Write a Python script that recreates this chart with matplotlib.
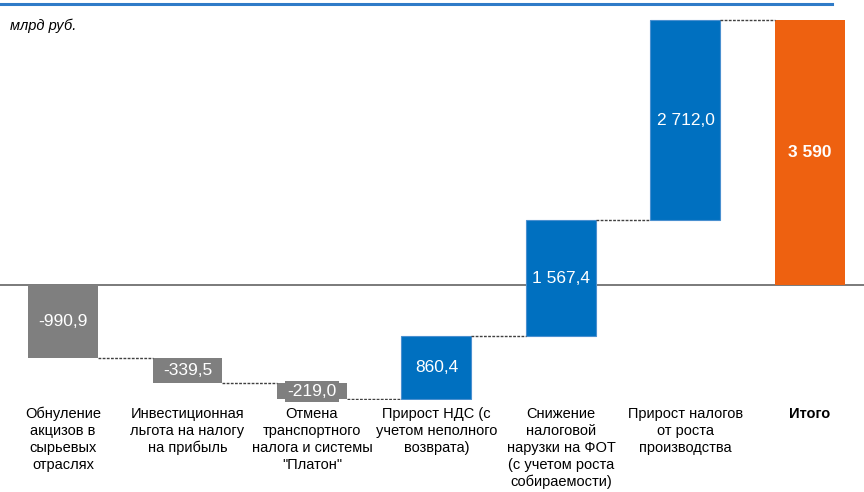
import numpy as np
import matplotlib
matplotlib.use("Agg")
import matplotlib.pyplot as plt

plt.rcParams['font.family'] = ['Liberation Sans', 'DejaVu Sans']

# данные
categories = ['Обнуление\nакцизов в\nсырьевых\nотраслях',
              'Инвестиционная\nльгота на налогу\nна прибыль',
              'Отмена\nтранспортного\nналога и системы\n"Платон"',
              'Прирост НДС (с\nучетом неполного\nвозврата)',
              'Снижение\nналоговой\nнарузки на ФОТ\n(с учетом роста\nсобираемости)',
              'Прирост налогов\nот роста\nпроизводства',
              'Итого']
values = [-990.9, -339.5, -219.0, 860.4, 1567.4, 2712.0]
total = 3590
value_labels = ['-990,9', '-339,5', '-219,0', '860,4', '1 567,4', '2 712,0', '3 590']

GRAY = '#7F7F7F'
BLUE = '#0070C0'
ORANGE = '#EE6110'

fig = plt.figure(figsize=(8.64, 4.92), dpi=100)
ax = fig.add_axes([0, 92 / 492, 1, 400 / 492])

# накопленные уровни
ends = np.cumsum(values)
starts = np.concatenate([[0], ends[:-1]])
x = np.arange(len(categories))
w = 0.562

bottoms = list(np.minimum(starts, ends)) + [0]
heights = list(np.abs(values)) + [total]
colors = [GRAY if v < 0 else BLUE for v in values] + [ORANGE]
edges = ['none' if v < 0 else '#4A90D0' for v in values] + ['none']

# линия нуля
ax.axhline(0, color='#707070', lw=1.3, zorder=1)

for i in range(len(x)):
    ax.bar(x[i], heights[i], bottom=bottoms[i], width=w, color=colors[i],
           edgecolor=edges[i], linewidth=0.8, zorder=2)
    ymid = bottoms[i] + heights[i] / 2
    bold = 'bold' if i == len(x) - 1 else 'normal'
    ax.text(x[i], ymid, value_labels[i], ha='center', va='center', color='white',
            fontsize=12.5, fontweight=bold, zorder=4,
            bbox=dict(facecolor=colors[i], edgecolor='none', pad=2))

# соединительные линии
levels = list(ends)
for i in range(len(x) - 1):
    ax.plot([x[i] + w / 2, x[i + 1] - w / 2], [levels[i], levels[i]],
            color='#404040', lw=1, ls=(0, (2, 1)), zorder=3)

ax.set_xlim(-0.506, 6.434)
ax.set_ylim(-1558, 3862)
ax.set_xticks(x)
ax.set_xticklabels(categories, fontsize=10.5, linespacing=1.27)
ax.get_xticklabels()[-1].set_fontweight('bold')
ax.tick_params(axis='x', length=0, pad=5)
ax.set_yticks([])
for s in ax.spines.values():
    s.set_visible(False)

# верхняя линия и подпись единиц
fig.add_artist(plt.Line2D([0, 832 / 864], [1 - 4 / 492, 1 - 4 / 492],
                          color='#2F7BC8', lw=2.2, transform=fig.transFigure))
fig.text(10 / 864, 1 - 26 / 492, 'млрд руб.', fontsize=10.5, style='italic',
         va='center', ha='left')

fig.savefig('out.png', dpi=100)
